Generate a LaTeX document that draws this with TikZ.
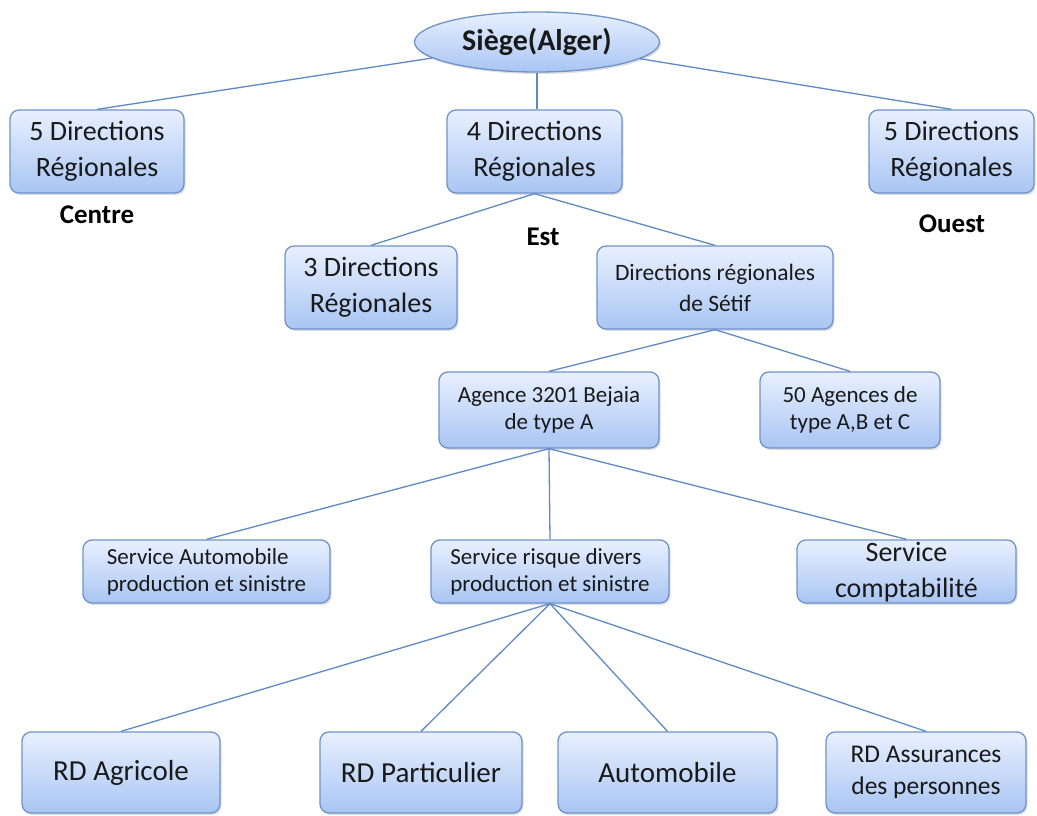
\documentclass[tikz,border=0pt]{standalone}
\usepackage{fontspec}
\setmainfont{Carlito}
\usetikzlibrary{shapes.geometric, shadows}

\definecolor{boxline}{HTML}{6F93CB}
\definecolor{boxtop}{HTML}{E8F0FE}
\definecolor{boxbottom}{HTML}{A9C5F3}
\definecolor{linkblue}{HTML}{5F89C4}

\begin{document}
\begin{tikzpicture}[x=1pt, y=-1pt,
    box/.style={rectangle, rounded corners=9pt, draw=boxline, line width=1.3pt,
        top color=boxtop, bottom color=boxbottom, text=black!90, inner sep=0pt,
        drop shadow={opacity=0.25, shadow xshift=1.5pt, shadow yshift=-2pt}},
    oval/.style={box, ellipse, font=\fontsize{30}{34}\selectfont\bfseries},
    big/.style={box, align=center, font=\fontsize{28}{36}\selectfont},
    mid/.style={box, align=center, font=\fontsize{23.5}{31}\selectfont},
    small/.style={box, align=left, font=\fontsize{23}{27}\selectfont},
    tag/.style={font=\fontsize{27}{30}\selectfont\bfseries, text=black},
    link/.style={draw=linkblue, line width=1.3pt}
]
\useasboundingbox (0,0) rectangle (1037,816);

% === SIEGE ===
\node[oval, minimum width=245pt, minimum height=60pt] (siege) at (537,42) {Siège(Alger)};

% === DIRECTIONS ===
\node[big, minimum width=174pt, minimum height=83pt] (dirCentre) at (97,151.5) {5 Directions\\Régionales};
\node[big, minimum width=175pt, minimum height=83pt] (dirEst) at (534.5,151.5) {4 Directions\\Régionales};
\node[big, minimum width=165pt, minimum height=83pt] (dirOuest) at (951.5,151.5) {5 Directions\\Régionales};

\node[tag] (tagCentre) at (97,215) {Centre};
\node[tag] (tagEst) at (543,237) {Est};
\node[tag] (tagOuest) at (952,224) {Ouest};

\node[big, minimum width=172pt, minimum height=83pt] (dirEst3) at (371,287.5) {3 Directions\\Régionales};
\node[mid, minimum width=236pt, minimum height=83pt] (dirSetif) at (715,287.5) {Directions régionales\\de Sétif};

% === AGENCES ===
\node[small, align=center, minimum width=220pt, minimum height=76pt] (agBejaia) at (549,410) {Agence 3201 Bejaia\\de type A};
\node[small, align=center, minimum width=180pt, minimum height=76pt] (ag50) at (850,410) {50 Agences de\\type A,B et C};

% === SERVICES ===
\node[small, minimum width=247pt, minimum height=63pt] (servAuto) at (206.5,571.5) {Service Automobile\\production et sinistre};
\node[small, minimum width=238pt, minimum height=63pt] (servRisque) at (550,571.5) {Service risque divers\\production et sinistre};
\node[big, minimum width=219pt, minimum height=63pt, text depth=3pt] (servCompta) at (906.5,571.5) {Service\\comptabilité};

% === RD ===
\node[big, font=\fontsize{29}{36}\selectfont, minimum width=198pt, minimum height=81pt] (rdAgricole) at (121,772.5) {RD Agricole};
\node[big, font=\fontsize{29}{36}\selectfont, minimum width=202pt, minimum height=81pt] (rdParticulier) at (421,772.5) {RD Particulier};
\node[big, font=\fontsize{29}{36}\selectfont, minimum width=219pt, minimum height=81pt] (rdAuto) at (667.5,772.5) {Automobile};
\node[box, align=center, font=\fontsize{25.5}{32}\selectfont, minimum width=200pt, minimum height=81pt] (rdPersonnes) at (926,772.5) {RD Assurances\\des personnes};

% === LINKS ===
\draw[link] (siege) -- (dirCentre.north);
\draw[link] (siege.south) -- (siege.south |- dirEst.north);
\draw[link] (siege) -- (dirOuest.north);

\draw[link] (dirEst.south) -- (dirEst3.north);
\draw[link] (dirEst.south) -- (dirSetif.north);

\draw[link] (dirSetif.south) -- (agBejaia.north);
\draw[link] (dirSetif.south) -- (ag50.north);

\draw[link] (agBejaia.south) -- (servAuto.north);
\draw[link] (agBejaia.south) -- (servRisque.north);
\draw[link] (agBejaia.south) -- (servCompta.north);

\foreach \rd in {rdAgricole, rdParticulier, rdAuto, rdPersonnes}
    \draw[link] (servRisque.south) -- (\rd.north);

\end{tikzpicture}
\end{document}
